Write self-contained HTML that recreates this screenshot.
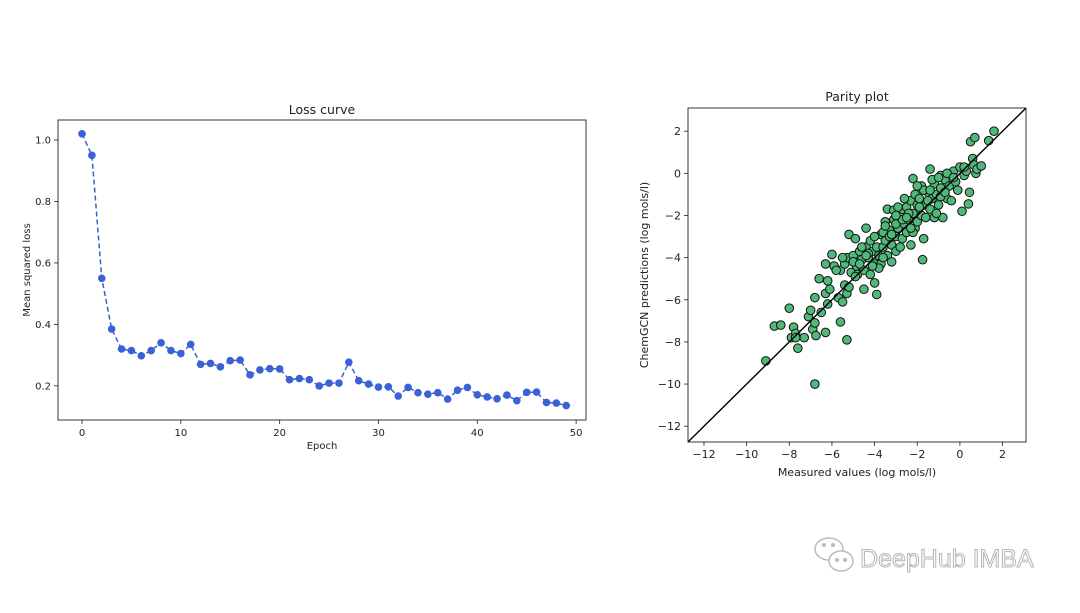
<!DOCTYPE html>
<html><head><meta charset="utf-8">
<style>
body{margin:0;background:#fff;width:1080px;height:608px;overflow:hidden;font-family:"Liberation Sans","DejaVu Sans",sans-serif;}
svg text{font-family:"DejaVu Sans","Liberation Sans",sans-serif;fill:#222;}
</style></head>
<body>
<svg id="fig" width="1080" height="608" viewBox="0 0 1080 608">
  <g id="loss"></g>
  <g id="parity"></g>
  <g>
    <g fill="#fff" stroke="#bbb" stroke-width="1.5">
      <ellipse cx="829" cy="549" rx="14" ry="11"/>
      <ellipse cx="841" cy="561" rx="12" ry="10"/>
      <circle cx="837" cy="560" r="1.3" fill="#bbb"/><circle cx="845" cy="560" r="1.3" fill="#bbb"/>
      <circle cx="824" cy="545" r="1.3" fill="#bbb"/><circle cx="833" cy="545" r="1.3" fill="#bbb"/>
    </g>
    <text x="860" y="567" style="font-family:'Liberation Sans',sans-serif;font-size:25px;fill:#fff;stroke:#b5b5b5;stroke-width:1">DeepHub IMBA</text>
  </g>
</svg>
<script>
const NS='http://www.w3.org/2000/svg';
function mk(p,tag,attrs,txt){const e=document.createElementNS(NS,tag);for(const k in attrs)e.setAttribute(k,attrs[k]);if(txt!==undefined)e.textContent=txt;p.appendChild(e);return e;}

// ---- Loss curve data ----
const epochs=[...Array(50).keys()];
const lossValues=[1.02,0.95,0.55,0.385,0.32,0.315,0.298,0.315,0.34,0.315,0.305,0.335,0.27,0.273,0.262,0.282,0.284,0.236,0.252,0.256,0.255,0.22,0.224,0.22,0.2,0.209,0.209,0.277,0.217,0.206,0.196,0.197,0.167,0.195,0.178,0.173,0.178,0.157,0.186,0.195,0.171,0.164,0.158,0.17,0.152,0.179,0.18,0.146,0.144,0.136];
const lossXTicks=[0,10,20,30,40,50];
const lossYTicks=[0.2,0.4,0.6,0.8,1.0];

// ---- Parity data ----
const measured=[-9.1,-6.8,-8.7,-8.4,-8,-7.9,-7.8,-7.7,-7.6,-7.3,-7.7,-7.1,-7,-6.9,-6.8,-6.8,-6.75,-6.6,-6.5,-6.3,-6.2,-6.3,-6.2,-6.1,-6,-5.9,-6.3,-5.6,-5.3,-5.7,-5.5,-5.4,-5.3,-5.2,-5.2,-5.6,-5.4,-5.3,-5.1,-5,-4.9,-4.85,-4.8,-4.7,-4.6,-4.5,-4.5,-4.4,-4.4,-4.3,-4.2,-4.2,-4.1,-4,-4,-3.9,-3.9,-3.8,-3.7,-3.7,-3.6,-3.5,-3.5,-3.4,-3.4,-3.3,-3.2,-3.2,-3.1,-3.1,-3,-3,-2.9,-2.8,-2.8,-2.7,-2.7,-2.6,-2.5,-2.5,-2.4,-2.3,-2.3,-2.2,-2.2,-2.1,-2.1,-2,-2,-1.9,-1.8,-1.8,-1.75,-1.7,-1.6,-1.6,-1.5,-1.4,-1.4,-1.3,-1.2,-1.2,-1.1,-1,-0.9,-0.9,-0.8,-0.7,-0.6,-0.5,-0.4,-0.3,-0.2,-0.1,0,0.1,0.2,0.3,0.4,0.45,0.5,0.6,0.65,0.7,0.75,0.8,1,1.35,1.6,-2.6,-3.6,-4.6,-5,-4,-3.3,-2.9,-1.3,-0.6,-4.9,-5.5,-4.3,-3.8,-2.4,-1.5,-0.9,-1.7,-2,-1,-0.3,0.2,-3,-3.6,-4.7,-2.2,-1.1,-3.5,-2.7,-1.9,-4.1,-5.8,-3.2,-2.5,-1.4,-0.7,-4.4,-3.0,-2.3];
const predicted=[-8.9,-10,-7.25,-7.2,-6.4,-7.8,-7.3,-7.6,-8.3,-7.8,-7.8,-6.8,-6.5,-7.4,-7.1,-5.9,-7.7,-5,-6.6,-7.55,-5.1,-5.7,-6.2,-5.5,-3.85,-4.4,-4.3,-7.05,-7.9,-5.9,-6.1,-5.3,-5.7,-2.9,-5.4,-4.6,-4.3,-4,-4.7,-3.9,-3.1,-4.4,-4.8,-3.7,-4.1,-5.5,-4.6,-2.6,-3.5,-4,-3.2,-4.8,-3.7,-5.2,-4.3,-3.5,-5.75,-3.9,-2.9,-4.3,-3.5,-2.3,-3.2,-1.7,-3.9,-2.7,-3.4,-4.2,-2.2,-1.75,-3,-3.7,-2.6,-2,-3.5,-3.1,-1.7,-2.4,-2.8,-1.6,-2.2,-3.4,-1.3,-0.25,-1.9,-2.6,-1,-1.5,-2.3,-1.2,-0.6,-2,-4.1,-3.1,-1.5,-2.1,-0.9,0.2,-1.7,-1.2,-0.5,-2.1,-1,-1.5,-0.1,-0.7,-2.1,-0.3,-1.2,-0.6,-1.3,0.1,-0.4,-0.8,0.3,-1.8,-0.1,0.1,-1.45,-0.9,1.5,0.7,0.4,1.7,0,0.2,0.35,1.55,2,-1.2,-2.8,-3.5,-4.2,-3,-3,-1.6,-0.3,0,-4.9,-4,-3.8,-4.5,-1.9,-1.3,-1.1,-0.8,-0.6,-0.2,-0.2,0.3,-2.4,-4,-4.3,-2.8,-1.9,-2.5,-2.2,-1.6,-4.4,-4.6,-2.9,-2.1,-0.8,-0.9,-3.9,-2.0,-2.6];
const parityTicks=[-12,-10,-8,-6,-4,-2,0,2];

// ---- Loss chart ----
(function(){
  const g=document.getElementById('loss');
  const L=58,R=586,T=120,B=420;
  const xmin=-2.43,xmax=51.0,ymin=0.089,ymax=1.065;
  const sx=v=>L+(v-xmin)/(xmax-xmin)*(R-L);
  const sy=v=>B-(v-ymin)/(ymax-ymin)*(B-T);
  let t=mk(g,'text',{x:(L+R)/2,y:114,'text-anchor':'middle','font-size':12.5},'Loss curve');
  
  
  lossXTicks.forEach(v=>{
    mk(g,'line',{x1:sx(v),x2:sx(v),y1:B,y2:B+4,stroke:'#222','stroke-width':0.8});
    const e=mk(g,'text',{x:sx(v),y:B+16,'text-anchor':'middle','font-size':10},String(v));
    
    
  });
  lossYTicks.forEach(v=>{
    mk(g,'line',{x1:L-4,x2:L,y1:sy(v),y2:sy(v),stroke:'#222','stroke-width':0.8});
    const e=mk(g,'text',{x:L-7,y:sy(v)+3.5,'text-anchor':'end','font-size':10},v.toFixed(1));
    
    
  });
  let xl=mk(g,'text',{x:(L+R)/2,y:449,'text-anchor':'middle','font-size':10},'Epoch');
  
  
  let yl=mk(g,'text',{x:0,y:0,'text-anchor':'middle','font-size':10,transform:`translate(30,${(T+B)/2}) rotate(-90)`},'Mean squared loss');
  
  
  const pts=epochs.map((e,i)=>sx(e)+','+sy(lossValues[i])).join(' ');
  const line=mk(g,'polyline',{points:pts,fill:'none',stroke:'#3a5fcd','stroke-width':1.5,'stroke-dasharray':'5,3'});
  
  
  epochs.forEach((e,i)=>{
    const c=mk(g,'circle',{cx:sx(e),cy:sy(lossValues[i]),r:3.8,fill:'#3a62d6'});
    
    
  });
  const f=mk(g,'rect',{x:L,y:T,width:R-L,height:B-T,fill:'none',stroke:'#222','stroke-width':0.9});
  
  
})();

// ---- Parity chart ----
(function(){
  const g=document.getElementById('parity');
  const L=688,R=1026,T=108,B=442;
  const mn=-12.75,mx=3.1;
  const sx=v=>L+(v-mn)/(mx-mn)*(R-L);
  const sy=v=>B-(v-mn)/(mx-mn)*(B-T);
  let t=mk(g,'text',{x:(L+R)/2,y:101,'text-anchor':'middle','font-size':12.5},'Parity plot');
  
  
  parityTicks.forEach(v=>{
    const lab=(v<0?'\u2212':'')+Math.abs(v);
    mk(g,'line',{x1:sx(v),x2:sx(v),y1:B,y2:B+4,stroke:'#222','stroke-width':0.8});
    const e=mk(g,'text',{x:sx(v),y:B+16,'text-anchor':'middle','font-size':11},lab);
    
    
    mk(g,'line',{x1:L-4,x2:L,y1:sy(v),y2:sy(v),stroke:'#222','stroke-width':0.8});
    const e2=mk(g,'text',{x:L-7,y:sy(v)+4,'text-anchor':'end','font-size':11},lab);
    
    
  });
  let xl=mk(g,'text',{x:(L+R)/2,y:476,'text-anchor':'middle','font-size':11},'Measured values (log mols/l)');
  
  
  let yl=mk(g,'text',{x:0,y:0,'text-anchor':'middle','font-size':11,transform:`translate(648,${(T+B)/2}) rotate(-90)`},'ChemGCN predictions (log mols/l)');
  
  
  measured.forEach((m,i)=>{
    const c=mk(g,'circle',{cx:sx(m),cy:sy(predicted[i]),r:4.3,fill:'#4fb97a',stroke:'#111','stroke-width':1});
    
    
  });
  const d=mk(g,'line',{x1:sx(mn),y1:sy(mn),x2:sx(mx),y2:sy(mx),stroke:'#000','stroke-width':1.4});
  
  
  const f=mk(g,'rect',{x:L,y:T,width:R-L,height:B-T,fill:'none',stroke:'#222','stroke-width':0.9});
  
  
})();
</script>
</body></html>
